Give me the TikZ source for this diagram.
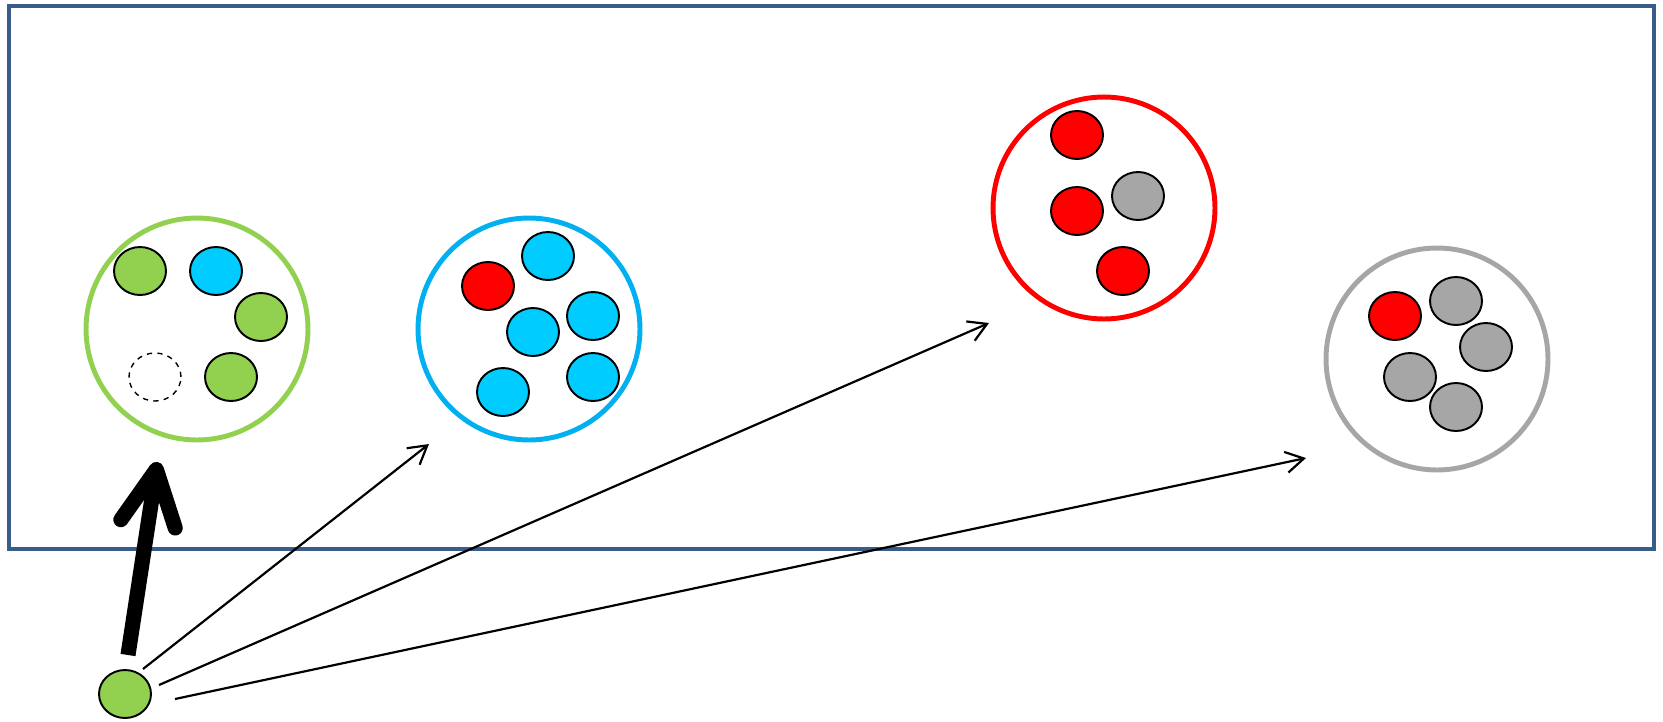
\documentclass[tikz,border=0pt]{standalone}
\usepackage{tikz}
\usetikzlibrary{arrows.meta,positioning,shapes.geometric,calc}
\definecolor{frameblue}{HTML}{385D8A}
\definecolor{cellgreen}{HTML}{92D050}
\definecolor{cellblue}{HTML}{00CCFF}
\definecolor{ringblue}{HTML}{00B0F0}
\definecolor{cellred}{HTML}{FF0000}
\definecolor{cellgrey}{HTML}{A6A6A6}

\begin{document}
\begin{tikzpicture}[
  x=0.02cm, y=-0.02cm,
  cell/.style={draw=black, ellipse, line width=1.1pt, minimum width=1.04cm,
    minimum height=0.96cm, inner sep=0pt},
  ring/.style={draw, circle, line width=2.8pt, minimum size=4.44cm, inner sep=0pt},
  arr/.style={-{Straight Barb[length=0.36cm, width=0.42cm]}, line width=1.25pt},
  bigarr/.style={-{Straight Barb[round, length=1.1cm, width=1.1cm]}, line width=8.6pt}
]
\useasboundingbox (0,0) rectangle (1663,721);
\draw[frameblue, line width=2.8pt] (9,6) rectangle (1654,549);

% rings
\node[ring, draw=cellgreen] (gr) at (197,329) {};
\node[ring, draw=ringblue]  (br) at (529,329) {};
\node[ring, draw=cellred]   (rr) at (1104,208) {};
\node[ring, draw=cellgrey]  (yr) at (1437,359) {};

% green ring
\node[cell, fill=cellgreen] (g1) at (140,271) {};
\node[cell, fill=cellblue]  (g2) at (216,271) {};
\node[cell, fill=cellgreen] (g3) at (261,317) {};
\node[cell, dashed, line width=0.8pt] (g4) at (155,377) {};
\node[cell, fill=cellgreen] (g5) at (231,377) {};

% blue ring
\node[cell, fill=cellred]  (b1) at (488,286) {};
\node[cell, fill=cellblue] (b2) at (548,256) {};
\node[cell, fill=cellblue] (b3) at (533,332) {};
\node[cell, fill=cellblue] (b4) at (593,316) {};
\node[cell, fill=cellblue] (b5) at (503,392) {};
\node[cell, fill=cellblue] (b6) at (593,377) {};

% red ring
\node[cell, fill=cellred]  (r1) at (1077,135) {};
\node[cell, fill=cellred]  (r2) at (1077,211) {};
\node[cell, fill=cellgrey] (r3) at (1138,196) {};
\node[cell, fill=cellred]  (r4) at (1123,271) {};

% grey ring
\node[cell, fill=cellred]  (y1) at (1395,316) {};
\node[cell, fill=cellgrey] (y2) at (1456,301) {};
\node[cell, fill=cellgrey] (y3) at (1486,347) {};
\node[cell, fill=cellgrey] (y4) at (1410,377) {};
\node[cell, fill=cellgrey] (y5) at (1456,407) {};

% source
\node[cell, fill=cellgreen] (src) at (125,694) {};

\coordinate (t0) at (128,655);
\coordinate (h0) at (157.5,462);
\coordinate (t1) at (143,669);
\coordinate (h1) at (429,444);
\coordinate (t2) at (159,685);
\coordinate (h2) at (989,323);
\coordinate (t3) at (175,699);
\coordinate (h3) at (1306,458);

\draw[bigarr] (t0) -- (h0);
\foreach \a/\b in {t1/h1, t2/h2, t3/h3}
  \draw[arr] (\a) -- (\b);
\end{tikzpicture}
\end{document}
